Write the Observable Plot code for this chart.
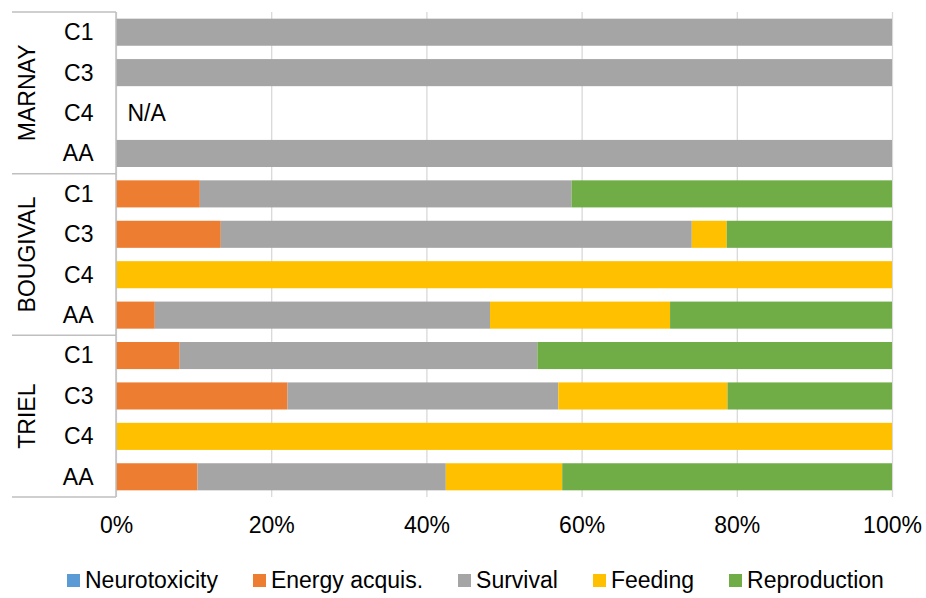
<!DOCTYPE html>
<html>
<head>
<meta charset="utf-8">
<script src="https://cdn.jsdelivr.net/npm/d3@7"></script>
<script src="https://cdn.jsdelivr.net/npm/@observablehq/plot@0.6"></script>
<style>
  body { margin: 0; background: #fff; font-family: "Liberation Sans", Arial, sans-serif; }
  #legend { display: flex; gap: 35px; margin-left: 67px; padding-top: 17px; font-size: 23px; line-height: 26px; color: #000; }
  #legend .item { display: flex; align-items: center; white-space: nowrap; }
  #legend .sw { width: 13px; height: 13px; margin-right: 5px; display: inline-block; }
</style>
</head>
<body>
<div id="chart"></div>
<div id="legend"></div>
<script>
// ---- data (percent of each row) ----
const groups = ["MARNAY", "BOUGIVAL", "TRIEL"];
const cats = ["C1", "C3", "C4", "AA"];
const metrics = ["Neurotoxicity", "Energy acquis.", "Survival", "Feeding", "Reproduction"];
const colors = ["#5B9BD5", "#ED7D31", "#A5A5A5", "#FFC000", "#70AD47"];
const xTicks = [0, 20, 40, 60, 80, 100];
// rows: MARNAY C1,C3,C4,AA | BOUGIVAL C1,C3,C4,AA | TRIEL C1,C3,C4,AA  (null = N/A)
const neurotoxicity = [0, 0, null, 0,   0, 0, 0, 0,          0, 0, 0, 0];
const energyAcquis  = [0, 0, null, 0,   10.8, 13.5, 0, 5.0,  8.2, 22.1, 0, 10.5];
const survival      = [100, 100, null, 100, 47.9, 60.7, 0, 43.2, 46.1, 34.9, 0, 32.0];
const feeding       = [0, 0, null, 0,   0, 4.5, 100, 23.2,   0, 21.8, 100, 15.0];
const reproduction  = [0, 0, null, 0,   41.3, 21.3, 0, 28.6, 45.7, 21.2, 0, 42.5];

const series = [neurotoxicity, energyAcquis, survival, feeding, reproduction];
const rows = [];
groups.forEach((g, gi) => cats.forEach((c, ci) => rows.push({key: g + "|" + c, group: g, cat: c, i: gi * cats.length + ci})));
const table = rows.flatMap(r => metrics.map((m, mi) => ({key: r.key, metric: m, value: series[mi][r.i]})))
  .filter(d => d.value != null && d.value > 0);
const naRows = rows.filter(r => series.every(s => s[r.i] == null));

const chart = Plot.plot({
  width: 926,
  height: 550,
  marginLeft: 116,
  marginRight: 34,
  marginTop: 12,
  marginBottom: 53,
  style: {fontFamily: "Liberation Sans, Arial, sans-serif", fontSize: "23px", color: "#000", background: "#fff"},
  x: {domain: [0, 100], ticks: xTicks, tickFormat: d => d + "%", label: null},
  y: {domain: rows.map(r => r.key), paddingInner: 0.33, paddingOuter: 0.165, round: false, label: null},
  color: {domain: metrics, range: colors},
  marks: [
    Plot.gridX(xTicks, {stroke: "#d9d9d9", strokeOpacity: 1, strokeWidth: 1.3}),
    Plot.barX(table, {x: "value", y: "key", fill: "metric", order: metrics}),
    Plot.text(naRows, {x: 0, y: "key", text: () => "N/A", textAnchor: "start", dx: 11, fontSize: 23, fill: "#000"}),
    Plot.axisX(xTicks, {tickSize: 0, tickPadding: 19, fontSize: 23, tickFormat: d => d + "%"}),
    Plot.axisY({tickSize: 0, tickPadding: 23, fontSize: 23, tickFormat: k => k.split("|")[1]})
  ]
});
document.getElementById("chart").appendChild(chart);

// group separators and labels, positioned with the plot's own y scale
const sy = chart.scale("y");
const bw = sy.bandwidth, step = sy.step, gap = (step - bw) / 2;
const svg = d3.select(chart);
const deco = svg.append("g");
const x0 = 116;
let top0 = null, bottomLast = null;
groups.forEach(g => {
  const keys = rows.filter(r => r.group === g).map(r => r.key);
  const top = sy.apply(keys[0]) - gap;
  const bottom = sy.apply(keys[keys.length - 1]) + bw + gap;
  if (top0 == null) top0 = top;
  bottomLast = bottom;
  deco.append("line").attr("x1", 12).attr("x2", x0).attr("y1", top).attr("y2", top)
    .attr("stroke", "#bfbfbf").attr("stroke-width", 1.5);
  deco.append("text").attr("transform", `translate(27,${(top + bottom) / 2}) rotate(-90)`)
    .attr("text-anchor", "middle").attr("dominant-baseline", "central")
    .attr("font-size", 23).attr("fill", "#000").text(g);
});
deco.append("line").attr("x1", 12).attr("x2", x0).attr("y1", bottomLast).attr("y2", bottomLast)
  .attr("stroke", "#bfbfbf").attr("stroke-width", 1.5);
deco.append("line").attr("x1", x0).attr("x2", x0).attr("y1", top0).attr("y2", bottomLast)
  .attr("stroke", "#bfbfbf").attr("stroke-width", 1.5);

// legend
const legend = d3.select("#legend");
metrics.forEach((m, i) => {
  const it = legend.append("div").attr("class", "item");
  it.append("span").attr("class", "sw").style("background", colors[i]);
  it.append("span").text(m);
});
</script>
</body>
</html>
